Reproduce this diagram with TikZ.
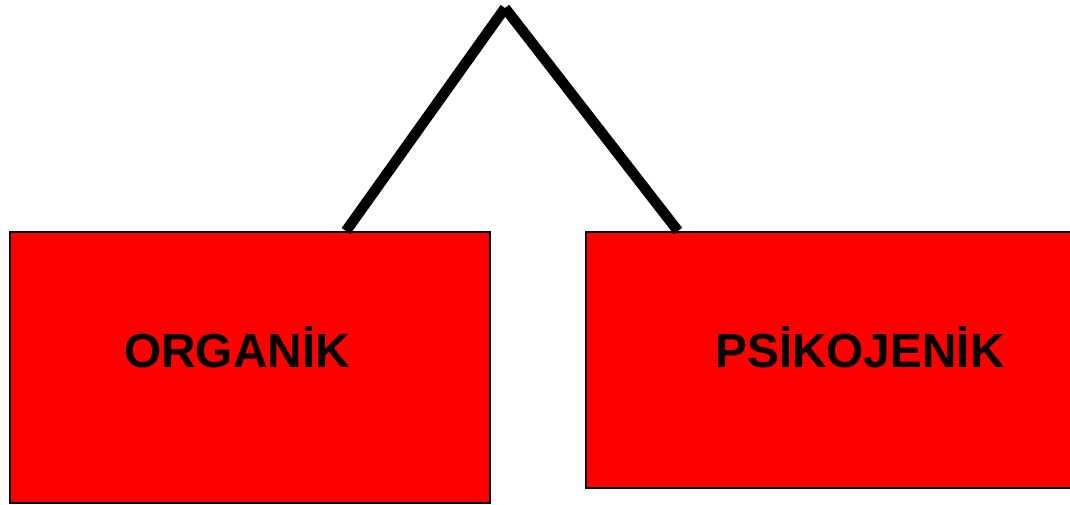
\documentclass[tikz,border=0pt]{standalone}
\usepackage{fontspec}
\setmainfont{Liberation Sans}
\usetikzlibrary{positioning}

\begin{document}
\begin{tikzpicture}[%
	every node/.style={font = \bfseries},
	x=1cm, y=1cm,
	]
	% -------------------------------------------------
	% Box and line styles
	\tikzset{
		box/.style={draw, line width=0.6pt, fill=red, rectangle, inner sep=0pt},
		word/.style={font={\fontsize{13.6pt}{16pt}\selectfont\bfseries}, inner sep=0pt},
		leg/.style={draw, line width=3pt, line cap=butt}
	}
	\useasboundingbox (0,0) rectangle (10.7,5.04);
	\clip (0,0) rectangle (10.7,5.04);

	\node[box, minimum width=4.8cm, minimum height=2.71cm, anchor=north west] (lbox) at (0.09,2.73) {};
	\node[box, minimum width=4.95cm, minimum height=2.56cm, anchor=north west] (rbox) at (5.85,2.73) {};

	\node[word] (org) at (2.37,1.57) {ORGANİK};
	\node[word] (psi) at (8.60,1.57) {PSİKOJENİK};

	\coordinate (apex) at (5.05,4.96);
	\draw[leg] (apex) -- ([xshift=3.37cm]lbox.north west);
	\draw[leg] (apex) -- ([xshift=0.93cm]rbox.north west);
\end{tikzpicture}
\end{document}
